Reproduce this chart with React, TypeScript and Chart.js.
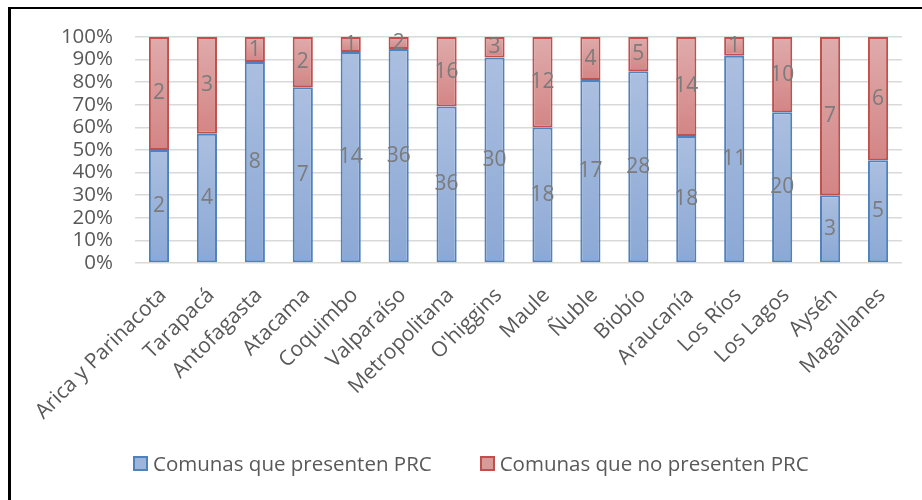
import React, { useEffect, useRef } from "react";
import { Chart, registerables } from "chart.js";

Chart.register(...registerables);

const regiones = [
  "Arica y Parinacota",
  "Tarapacá",
  "Antofagasta",
  "Atacama",
  "Coquimbo",
  "Valparaíso",
  "Metropolitana",
  "O'higgins",
  "Maule",
  "Ñuble",
  "Biobío",
  "Araucanía",
  "Los Ríos",
  "Los Lagos",
  "Aysén",
  "Magallanes",
];

// Number of comunas with and without a Plan Regulador Comunal
const conPRC = [2, 4, 8, 7, 14, 36, 36, 30, 18, 17, 28, 18, 11, 20, 3, 5];
const sinPRC = [2, 3, 1, 2, 1, 2, 16, 3, 12, 4, 5, 14, 1, 10, 7, 6];

const yTicks = [0, 10, 20, 30, 40, 50, 60, 70, 80, 90, 100];

const serieCon = "Comunas que presenten PRC";
const serieSin = "Comunas que no presenten PRC";

// share of each region's total, stacked to 100%
const pctCon = conPRC.map((v, i) => (v / (v + sinPRC[i])) * 100);
const pctSin = sinPRC.map((v, i) => (v / (v + conPRC[i])) * 100);

const FONT = "'Open Sans', 'DejaVu Sans', sans-serif";
const GREY = "#595959";

function segmentFill(top: string, bottom: string, lower: (i: number) => number, upper: (i: number) => number) {
  return (ctx: any) => {
    const chart = ctx.chart;
    const y = chart.scales && chart.scales.y;
    if (!y || ctx.type !== "data") return bottom;
    const i = ctx.dataIndex;
    const y0 = y.getPixelForValue(upper(i));
    const y1 = y.getPixelForValue(lower(i));
    if (!isFinite(y0) || !isFinite(y1) || y0 === y1) return top;
    const g = chart.ctx.createLinearGradient(0, y0, 0, y1);
    g.addColorStop(0, top);
    g.addColorStop(1, bottom);
    return g;
  };
}

// writes the count of comunas in the middle of each segment
const countLabels = {
  id: "countLabels",
  afterDatasetsDraw(chart: any) {
    const { ctx } = chart;
    const counts = [conPRC, sinPRC];
    ctx.save();
    ctx.font = `21px ${FONT}`;
    ctx.fillStyle = "#7b7b7b";
    ctx.textAlign = "center";
    ctx.textBaseline = "middle";
    chart.data.datasets.forEach((_ds: any, di: number) => {
      const meta = chart.getDatasetMeta(di);
      meta.data.forEach((bar: any, i: number) => {
        const p = bar.getCenterPoint();
        ctx.fillText(String(counts[di][i]), p.x, p.y);
      });
    });
    ctx.restore();
  },
};

export default function App() {
  const ref = useRef<HTMLCanvasElement>(null);

  useEffect(() => {
    if (!ref.current) return;
    const chart = new Chart(ref.current, {
      type: "bar",
      data: {
        labels: regiones,
        datasets: [
          {
            label: serieCon,
            data: pctCon,
            backgroundColor: segmentFill("#abbfe0", "#8ba8d5", () => 0, (i) => pctCon[i]),
            borderColor: "#4f81bd",
            borderWidth: 2,
            borderSkipped: false,
            barPercentage: 0.42,
            categoryPercentage: 1,
          },
          {
            label: serieSin,
            data: pctSin,
            backgroundColor: segmentFill("#dfabab", "#d48585", (i) => pctCon[i], () => 100),
            borderColor: "#c0504d",
            borderWidth: 2,
            borderSkipped: false,
            barPercentage: 0.42,
            categoryPercentage: 1,
          },
        ],
      },
      options: {
        responsive: false,
        animation: false,
        layout: { padding: { top: 37, right: 20, left: 0, bottom: 67 } },
        plugins: {
          legend: { display: false },
          tooltip: { enabled: false },
        },
        scales: {
          x: {
            stacked: true,
            grid: { display: false, drawTicks: false },
            border: { display: false },
            ticks: {
              color: GREY,
              font: { family: FONT, size: 21 },
              minRotation: 45,
              maxRotation: 45,
              autoSkip: false,
              padding: 20,
              labelOffset: 4,
            },
            afterFit: (s: any) => {
              s.height = 170;
            },
          },
          y: {
            stacked: true,
            min: 0,
            max: 100,
            afterBuildTicks: (s: any) => {
              s.ticks = yTicks.map((v) => ({ value: v }));
            },
            grid: { color: "#d9d9d9", lineWidth: 1.5, drawTicks: false },
            border: { display: false },
            ticks: {
              color: GREY,
              font: { family: FONT, size: 20.5 },
              autoSkip: false,
              padding: 22,
              callback: (v: any) => `${v}%`,
            },
            afterFit: (s: any) => {
              s.width = 135;
            },
          },
        },
      },
      plugins: [countLabels],
    });
    return () => chart.destroy();
  }, []);

  const item = (fill: string, border: string, text: string) => (
    <div style={{ display: "flex", alignItems: "center" }}>
      <span
        style={{
          display: "inline-block",
          width: 11,
          height: 11,
          background: fill,
          border: `2px solid ${border}`,
          marginRight: 5,
        }}
      />
      <span>{text}</span>
    </div>
  );

  return (
    <div style={{ position: "absolute", left: 0, top: 0, width: 922, height: 500, background: "#fff", overflow: "hidden" }}>
      <div
        style={{
          position: "absolute",
          left: 8,
          top: 7,
          right: 0,
          bottom: 0,
          borderTop: "2px solid #000",
          borderLeft: "3px solid #000",
        }}
      />
      <canvas ref={ref} width={922} height={500} style={{ position: "absolute", left: 0, top: 0 }} />
      <div
        style={{
          position: "absolute",
          left: 133,
          top: 449,
          display: "flex",
          gap: 48,
          fontFamily: FONT,
          fontSize: 20.5,
          color: GREY,
          lineHeight: "28px",
        }}
      >
        {item("#9db4db", "#4f81bd", serieCon)}
        {item("#d99a9a", "#c0504d", serieSin)}
      </div>
    </div>
  );
}
